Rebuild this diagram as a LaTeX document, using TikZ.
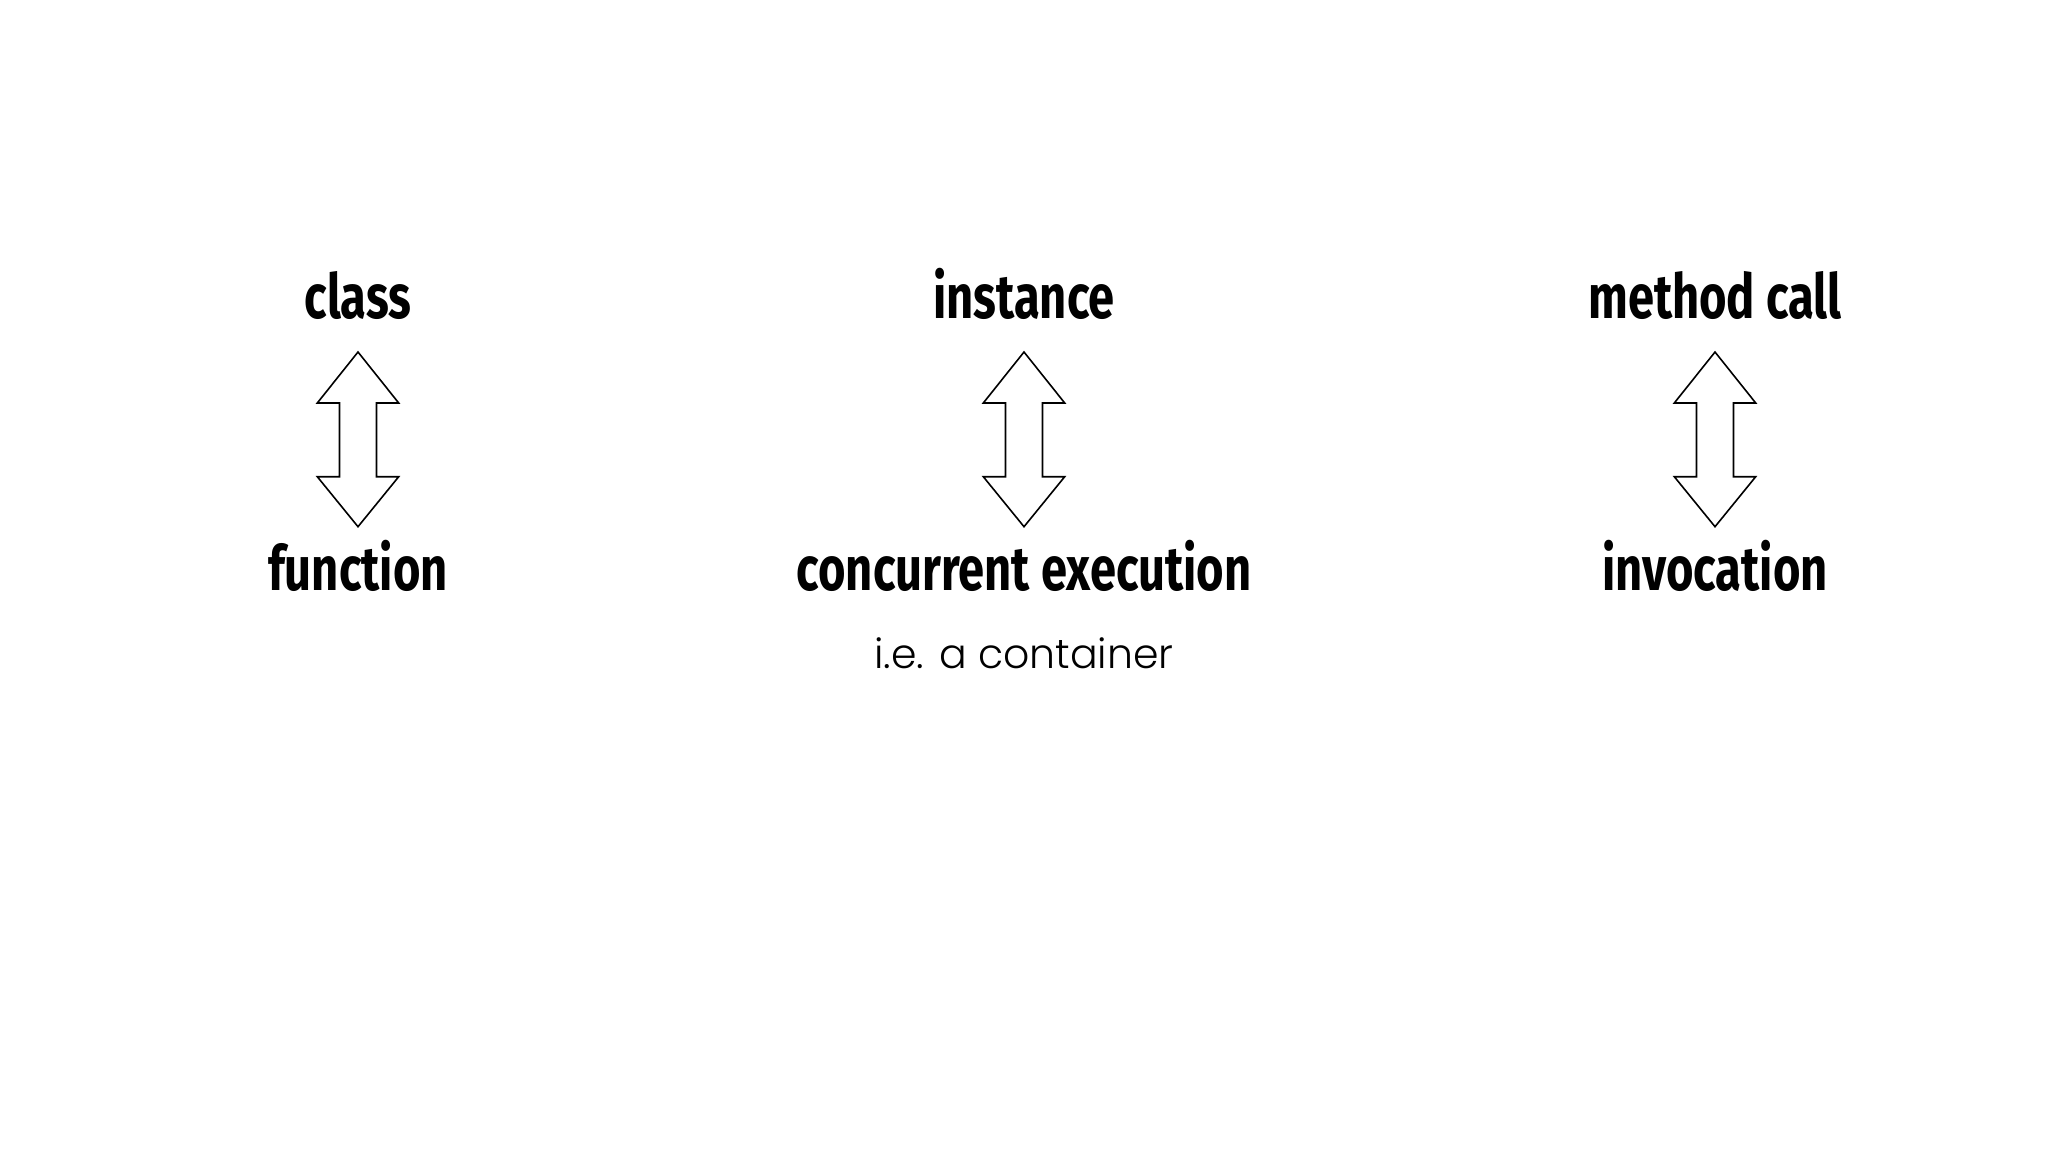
\documentclass[tikz,border=0pt]{standalone}
\usepackage{fontspec}
\newfontfamily\boldcond[FakeStretch=0.76]{Fira Sans Bold}
\newfontfamily\lightfont{Poppins Light}
\begin{document}
\begin{tikzpicture}[x=1pt,y=-1pt,
  bigword/.style={anchor=base,inner sep=0pt,font=\boldcond\fontsize{62}{66}\selectfont},
  smallword/.style={anchor=base,inner sep=0pt,font=\lightfont\fontsize{41}{45}\selectfont},
  blockarrow/.style={draw=black,line width=1.6pt,fill=white,line join=miter}]
\useasboundingbox (0,0) rectangle (2048,1152);
\foreach \cx/\top/\bot/\nm in {358/class/function/a, 1024/instance/concurrent execution/b, 1715/method call/invocation/c}{
  \node[bigword] (\nm top) at (\cx,318) {\top};
  \node[bigword] (\nm bot) at (\cx,590) {\bot};
  \draw[blockarrow,shift={(\cx,0)}] (0,352) -- (40.7,403) -- (18.5,403) -- (18.5,476.7) -- (40.7,476.7) -- (0,526.7) -- (-40.7,476.7) -- (-18.5,476.7) -- (-18.5,403) -- (-40.7,403) -- cycle;
}
\node[smallword] (note) at (1024,668) {i.e. a container};
\end{tikzpicture}
\end{document}
